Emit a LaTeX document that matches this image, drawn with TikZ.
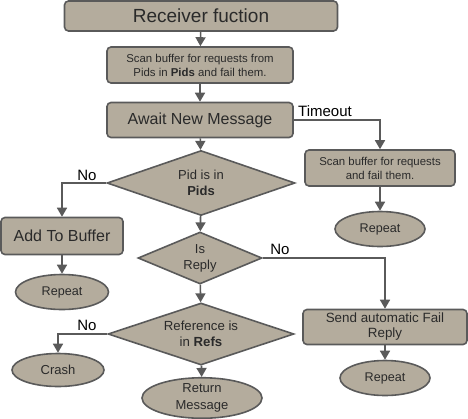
\documentclass[tikz,border=0pt]{standalone}
\usepackage{fontspec}
\setmainfont{Liberation Sans}
\usetikzlibrary{shapes.geometric,arrows.meta}
\definecolor{boxfill}{HTML}{B4AC9D}
\definecolor{boxline}{HTML}{5A5A5A}
\definecolor{txt}{HTML}{2A2A2A}
\tikzset{
  base/.style={draw=boxline, fill=boxfill, line width=1.6pt, text=txt, align=center, inner sep=0pt},
  rbox/.style={base, rectangle, rounded corners=4pt},
  dia/.style={base, diamond, aspect=3},
  ell/.style={base, ellipse},
  conn/.style={draw=boxline, line width=1.6pt, -{Triangle[width=10pt,length=9pt]}},
  lbl/.style={text=black, inner sep=0pt, font=\fontsize{15}{17}\selectfont},
}
\begin{document}
\begin{tikzpicture}[x=1pt,y=-1pt]
\useasboundingbox (0,0) rectangle (468,418);
\node[rbox, minimum width=273, minimum height=30, font=\fontsize{19}{22}\selectfont] (recv) at (201,16) {Receiver fuction};
\node[rbox, minimum width=186, minimum height=36, font=\fontsize{11.4}{14}\selectfont] (scan1) at (200,65) {Scan buffer for requests from\\Pids in \textbf{Pids} and fail them.};
\node[rbox, minimum width=186, minimum height=35, font=\fontsize{16}{19}\selectfont] (await) at (200,120) {Await New Message};
\node[dia, minimum width=188, minimum height=65, font=\fontsize{13}{16}\selectfont] (pid) at (201,183) {Pid is in\\\textbf{Pids}};
\node[rbox, minimum width=150, minimum height=36, font=\fontsize{11.4}{14}\selectfont] (scan2) at (380,168) {Scan buffer for requests\\and fail them.};
\node[ell, minimum width=90, minimum height=35, font=\fontsize{12.6}{14}\selectfont] (rep1) at (380,229) {Repeat};
\node[rbox, minimum width=122, minimum height=37, font=\fontsize{16}{18}\selectfont] (add) at (62,236) {Add To Buffer};
\node[ell, minimum width=93, minimum height=35, font=\fontsize{12.6}{14}\selectfont] (rep2) at (62,292) {Repeat};
\node[dia, aspect=2.4, minimum width=124, minimum height=52, font=\fontsize{13}{16}\selectfont] (isrep) at (200,258) {Is\\Reply};
\node[rbox, minimum width=164, minimum height=35, font=\fontsize{13.4}{15}\selectfont] (send) at (385,327) {Send automatic Fail\\Reply};
\node[ell, minimum width=90, minimum height=35, font=\fontsize{12.6}{14}\selectfont] (rep3) at (385,378) {Repeat};
\node[dia, minimum width=186, minimum height=62, font=\fontsize{13.2}{16}\selectfont] (ref) at (201,334) {Reference is\\in \textbf{Refs}};
\node[ell, minimum width=92, minimum height=33, font=\fontsize{13}{14}\selectfont] (crash) at (58,370) {Crash};
\node[ell, minimum width=120, minimum height=40, font=\fontsize{13}{17}\selectfont] (ret) at (202,398) {Return\\Message};

\draw[conn] (recv) -- (scan1);
\draw[conn] (scan1) -- (await);
\draw[conn] (await) -- (pid);
\draw[conn] (await.east) -- (scan2.north |- await.east) -- (scan2.north);
\draw[conn] (scan2) -- (rep1);
\draw[conn] (pid.west) -- (add.north |- pid.west) -- (add.north);
\draw[conn] (add) -- (rep2);
\draw[conn] (pid) -- (isrep);
\draw[conn] (isrep.east) -- (send.north |- isrep.east) -- (send.north);
\draw[conn] (send) -- (rep3);
\draw[conn] (isrep) -- (ref);
\draw[conn] (ref.west) -- (crash.north |- ref.west) -- (crash.north);
\draw[conn] (ref) -- (ret);

\node[lbl, anchor=south west] (tout) at (298,117) {Timeout};
\node[lbl, anchor=south] (no1) at (87,181) {No};
\node[lbl, anchor=south] (no2) at (280,255) {No};
\node[lbl, anchor=south] (no3) at (87,331) {No};
\end{tikzpicture}
\end{document}
